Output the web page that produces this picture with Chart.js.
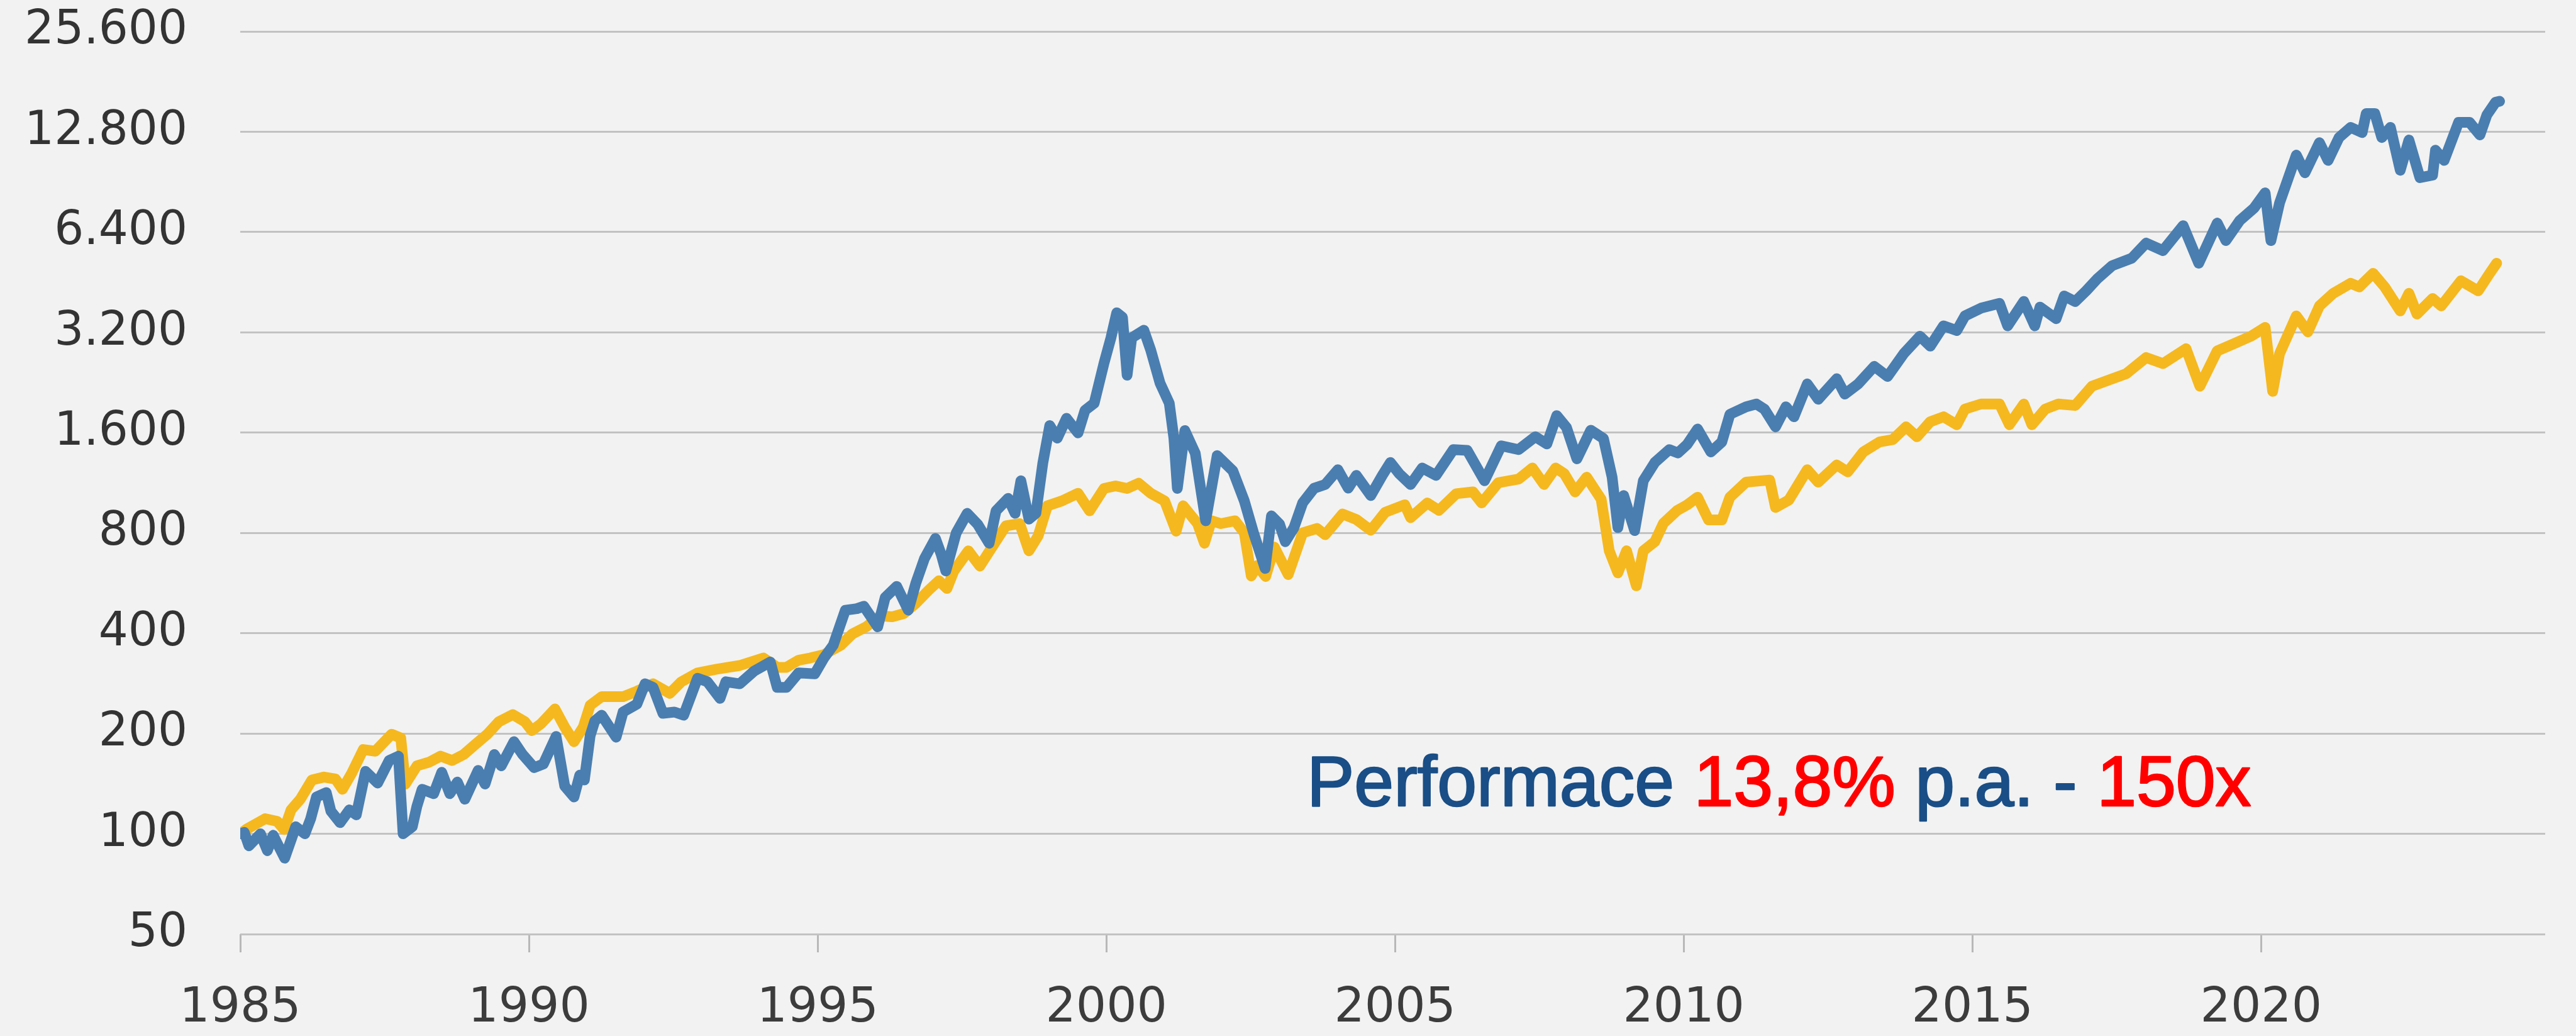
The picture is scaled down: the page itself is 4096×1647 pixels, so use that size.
<!DOCTYPE html>
<html lang="de">
<head>
<meta charset="utf-8">
<title>Performance 1985-2024</title>
<script src="https://cdn.jsdelivr.net/npm/chart.js"></script>
<style>
  html, body { margin: 0; padding: 0; background: #f2f2f2; }
  canvas { display: block; }
</style>
</head>
<body>
<canvas id="chart" width="4096" height="1647"></canvas>
<script>
// y axis (log2) and x axis ticks
const yTicks = [50, 100, 200, 400, 800, 1600, 3200, 6400, 12800, 25600];
const yTickLabels = ['50', '100', '200', '400', '800', '1.600', '3.200', '6.400', '12.800', '25.600'];
const xTicks = [1985, 1990, 1995, 2000, 2005, 2010, 2015, 2020];

// blue series
const blueYears = [
  1985.00, 1985.07, 1985.15, 1985.35, 1985.47, 1985.57, 1985.77, 1985.96, 1986.12, 1986.22,
  1986.32, 1986.49, 1986.57, 1986.73, 1986.89, 1987.01, 1987.17, 1987.38, 1987.58, 1987.74,
  1987.82, 1987.98, 1988.06, 1988.15, 1988.35, 1988.49, 1988.63, 1988.76, 1988.89, 1989.12,
  1989.24, 1989.40, 1989.52, 1989.74, 1989.89, 1990.09, 1990.25, 1990.47, 1990.62, 1990.78,
  1990.88, 1990.96, 1991.06, 1991.14, 1991.26, 1991.51, 1991.63, 1991.87, 1992.01, 1992.15,
  1992.32, 1992.52, 1992.68, 1992.92, 1993.09, 1993.31, 1993.41, 1993.65, 1993.90, 1994.18,
  1994.30, 1994.46, 1994.67, 1994.95, 1995.11, 1995.27, 1995.48, 1995.68, 1995.80, 1996.04,
  1996.17, 1996.37, 1996.57, 1996.70, 1996.85, 1997.04, 1997.14, 1997.22, 1997.40, 1997.59,
  1997.77, 1997.97, 1998.09, 1998.30, 1998.42, 1998.52, 1998.66, 1998.78, 1998.90, 1999.02,
  1999.15, 1999.31, 1999.51, 1999.63, 1999.79, 1999.96, 2000.08, 2000.18, 2000.28, 2000.36,
  2000.44, 2000.65, 2000.77, 2000.93, 2001.09, 2001.17, 2001.23, 2001.36, 2001.54, 2001.72,
  2001.92, 2002.19, 2002.39, 2002.55, 2002.75, 2002.86, 2003.00, 2003.10, 2003.25, 2003.40,
  2003.60, 2003.79, 2004.01, 2004.19, 2004.33, 2004.58, 2004.78, 2004.92, 2005.07, 2005.27,
  2005.47, 2005.71, 2006.01, 2006.25, 2006.55, 2006.84, 2007.14, 2007.43, 2007.63, 2007.80,
  2007.97, 2008.15, 2008.39, 2008.61, 2008.76, 2008.86, 2008.96, 2009.15, 2009.30, 2009.50,
  2009.75, 2009.90, 2010.06, 2010.24, 2010.47, 2010.66, 2010.80, 2011.08, 2011.26, 2011.40,
  2011.59, 2011.77, 2011.91, 2012.14, 2012.33, 2012.65, 2012.79, 2013.02, 2013.30, 2013.53,
  2013.81, 2014.09, 2014.27, 2014.50, 2014.73, 2014.87, 2015.15, 2015.47, 2015.61, 2015.89,
  2016.08, 2016.17, 2016.45, 2016.59, 2016.78, 2016.97, 2017.17, 2017.42, 2017.76, 2018.01,
  2018.30, 2018.65, 2018.92, 2019.24, 2019.39, 2019.63, 2019.88, 2020.07, 2020.17, 2020.32,
  2020.61, 2020.76, 2021.01, 2021.16, 2021.35, 2021.55, 2021.75, 2021.82, 2021.97, 2022.09,
  2022.24, 2022.41, 2022.56, 2022.75, 2022.97, 2023.02, 2023.17, 2023.42, 2023.61, 2023.79,
  2023.91, 2024.06, 2024.13
];
const blueValues = [
  100, 101, 92, 100, 89, 99, 84.5, 105, 100, 111,
  129, 133, 117, 108, 118, 114, 154, 142, 166, 171,
  100, 105, 121, 136, 132, 153, 132, 143, 127, 155,
  141, 173, 160, 189, 173, 158, 162, 196, 139, 129,
  150, 145, 197, 218, 227, 195, 232, 245, 282, 275,
  230, 232, 227, 293, 286, 255, 286, 282, 308, 328,
  275, 275, 304, 302, 337, 368, 469, 474, 482, 418,
  512, 553, 469, 565, 670, 770, 690, 615, 800, 916,
  850, 745, 932, 1016, 916, 1147, 880, 916, 1296, 1680,
  1540, 1766, 1597, 1866, 1961, 2588, 3082, 3664, 3550, 2379,
  3082, 3246, 2827, 2254, 1961, 1540, 1088, 1623, 1388, 870,
  1365, 1230, 998, 800, 626, 900, 850, 753, 830, 984,
  1090, 1118, 1238, 1090, 1191, 1036, 1191, 1302, 1206, 1118,
  1253, 1191, 1423, 1415, 1147, 1461, 1423, 1555, 1480, 1800,
  1657, 1335, 1627, 1536, 1176, 830, 1036, 813, 1147, 1302,
  1423, 1390, 1475, 1640, 1400, 1500, 1816, 1913, 1950, 1880,
  1665, 1913, 1785, 2240, 2015, 2322, 2088, 2240, 2530, 2358,
  2760, 3116, 2908, 3348, 3240, 3584, 3784, 3908, 3348, 3962,
  3348, 3810, 3516, 4115, 3960, 4263, 4646, 5072, 5341, 5930,
  5630, 6690, 5158, 6810, 6033, 6930, 7560, 8390, 6033, 7830,
  10890, 9640, 11870, 10500, 12300, 13190, 12730, 14510, 14510, 12300,
  13190, 9810, 12090, 9320, 9480, 11270, 10500, 13660, 13660, 12520,
  14370, 15690, 15800
];

// yellow series
const yellowYears = [
  1985.00, 1985.10, 1985.43, 1985.64, 1985.76, 1985.88, 1986.04, 1986.24, 1986.45, 1986.65,
  1986.77, 1986.93, 1987.13, 1987.34, 1987.62, 1987.78, 1987.86, 1988.06, 1988.27, 1988.47,
  1988.67, 1988.87, 1989.08, 1989.28, 1989.48, 1989.72, 1989.93, 1990.05, 1990.21, 1990.45,
  1990.62, 1990.78, 1990.94, 1991.06, 1991.26, 1991.63, 1991.87, 1992.15, 1992.44, 1992.64,
  1992.92, 1993.25, 1993.65, 1994.06, 1994.30, 1994.46, 1994.67, 1994.87, 1995.11, 1995.40,
  1995.60, 1995.84, 1996.08, 1996.29, 1996.49, 1996.69, 1996.93, 1997.10, 1997.24, 1997.36,
  1997.61, 1997.81, 1997.98, 1998.26, 1998.50, 1998.66, 1998.82, 1998.98, 1999.23, 1999.51,
  1999.71, 1999.96, 2000.16, 2000.36, 2000.56, 2000.77, 2001.01, 2001.21, 2001.33, 2001.58,
  2001.70, 2001.82, 2001.98, 2002.23, 2002.39, 2002.51, 2002.61, 2002.76, 2002.91, 2003.15,
  2003.40, 2003.65, 2003.79, 2004.09, 2004.33, 2004.58, 2004.83, 2005.17, 2005.27, 2005.56,
  2005.76, 2006.06, 2006.35, 2006.50, 2006.79, 2007.14, 2007.38, 2007.58, 2007.78, 2007.93,
  2008.12, 2008.32, 2008.57, 2008.71, 2008.86, 2009.01, 2009.18, 2009.30, 2009.50, 2009.65,
  2009.89, 2010.06, 2010.24, 2010.43, 2010.66, 2010.80, 2011.08, 2011.49, 2011.59, 2011.82,
  2012.14, 2012.33, 2012.65, 2012.84, 2013.11, 2013.39, 2013.62, 2013.85, 2014.04, 2014.27,
  2014.50, 2014.73, 2014.87, 2015.15, 2015.47, 2015.64, 2015.89, 2016.03, 2016.26, 2016.49,
  2016.78, 2017.07, 2017.42, 2017.66, 2018.01, 2018.30, 2018.70, 2018.94, 2019.24, 2019.53,
  2019.83, 2020.07, 2020.20, 2020.32, 2020.61, 2020.81, 2021.01, 2021.25, 2021.55, 2021.70,
  2021.94, 2022.14, 2022.41, 2022.56, 2022.70, 2022.97, 2023.12, 2023.46, 2023.76, 2023.96,
  2024.08
];
const yellowValues = [
  100, 103, 111, 109, 103, 118, 127, 145, 148, 146,
  136, 152, 179, 177, 199, 194, 141, 160, 164, 171,
  166, 173, 186, 199, 217, 228, 217, 204, 214, 237,
  209, 189, 209, 243, 258, 258, 268, 282, 264, 286,
  304, 312, 320, 337, 316, 316, 332, 337, 345, 368,
  398, 418, 451, 448, 458, 490, 540, 575, 545, 615,
  707, 636, 707, 840, 853, 707, 784, 965, 998, 1052,
  932, 1088, 1107, 1088, 1128, 1052, 998, 810, 965, 853,
  745, 870, 853, 870, 800, 594, 638, 592, 725, 600,
  800, 825, 790, 912, 878, 815, 923, 972, 889, 984,
  935, 1049, 1062, 984, 1132, 1161, 1253, 1118, 1253, 1206,
  1062, 1176, 1010, 707, 607, 707, 555, 707, 753, 856,
  935, 971, 1024, 875, 875, 1024, 1136, 1153, 954, 1004,
  1238, 1136, 1280, 1220, 1400, 1500, 1525, 1665, 1555, 1725,
  1785, 1690, 1882, 1950, 1950, 1690, 1950, 1690, 1882, 1950,
  1930, 2205, 2320, 2402, 2688, 2578, 2858, 2205, 2815, 2958,
  3120, 3311, 2128, 2762, 3585, 3210, 3840, 4190, 4490, 4380,
  4813, 4380, 3710, 4190, 3630, 4045, 3840, 4570, 4263, 4813,
  5160
];

const annotation = [
  { text: 'Performace ', color: '#1a4e86' },
  { text: '13,8%', color: '#ff0000' },
  { text: ' p.a. - ', color: '#1a4e86' },
  { text: '150x', color: '#ff0000' }
];

function points(xs, ys) {
  return xs.map((x, i) => ({ x: x, y: ys[i] }));
}

const labelText = {
  id: 'labelText',
  afterDraw(chart) {
    const c = chart.ctx;
    c.save();
    c.font = '113px "Liberation Sans", Arial, sans-serif';
    c.textBaseline = 'alphabetic';
    c.lineWidth = 2.5;
    c.lineJoin = 'round';
    let x = 2078;
    for (const part of annotation) {
      c.fillStyle = part.color;
      c.strokeStyle = part.color;
      c.fillText(part.text, x, 1281);
      c.strokeText(part.text, x, 1281);
      x += c.measureText(part.text).width;
    }
    c.restore();
  }
};

const axisFont = { family: '"DejaVu Sans", sans-serif', size: 74 };

new Chart(document.getElementById('chart'), {
  type: 'line',
  data: {
    datasets: [{
      data: points(blueYears, blueValues),
      borderColor: '#4a7eb0',
      borderWidth: 17,
      borderJoinStyle: 'round',
      borderCapStyle: 'round',
      pointRadius: 0,
      tension: 0
    }, {
      data: points(yellowYears, yellowValues),
      borderColor: '#f5b81e',
      borderWidth: 17,
      borderJoinStyle: 'round',
      borderCapStyle: 'round',
      pointRadius: 0,
      tension: 0
    }]
  },
  options: {
    responsive: false,
    animation: false,
    devicePixelRatio: 1,
    layout: { padding: { left: 0, top: 50, right: 49, bottom: 0 } },
    plugins: { legend: { display: false }, tooltip: { enabled: false } },
    scales: {
      x: {
        type: 'linear',
        min: 1985,
        max: 2024.92,
        afterBuildTicks: s => { s.ticks = xTicks.map(v => ({ value: v })); },
        afterFit: s => { s.height = 162; s.paddingLeft = 0; s.paddingRight = 0; },
        border: { display: false },
        grid: { drawOnChartArea: false, drawTicks: true, tickLength: 29, color: '#b8b8b8', lineWidth: 3 },
        ticks: {
          padding: 45,
          color: '#3c3c3c',
          font: { family: axisFont.family, size: 76 },
          maxRotation: 0,
          autoSkip: false,
          callback: v => String(v)
        }
      },
      y: {
        type: 'logarithmic',
        min: 50,
        max: 25600,
        afterBuildTicks: s => { s.ticks = yTicks.map(v => ({ value: v })); },
        afterFit: s => { s.width = 382; s.paddingTop = 0; s.paddingBottom = 0; },
        border: { display: false },
        grid: { color: '#c2c2c2', lineWidth: 3, drawTicks: false },
        ticks: {
          padding: 84,
          color: '#333333',
          font: axisFont,
          autoSkip: false,
          callback: v => yTickLabels[yTicks.indexOf(v)]
        }
      }
    }
  },
  plugins: [labelText]
});
</script>
</body>
</html>
